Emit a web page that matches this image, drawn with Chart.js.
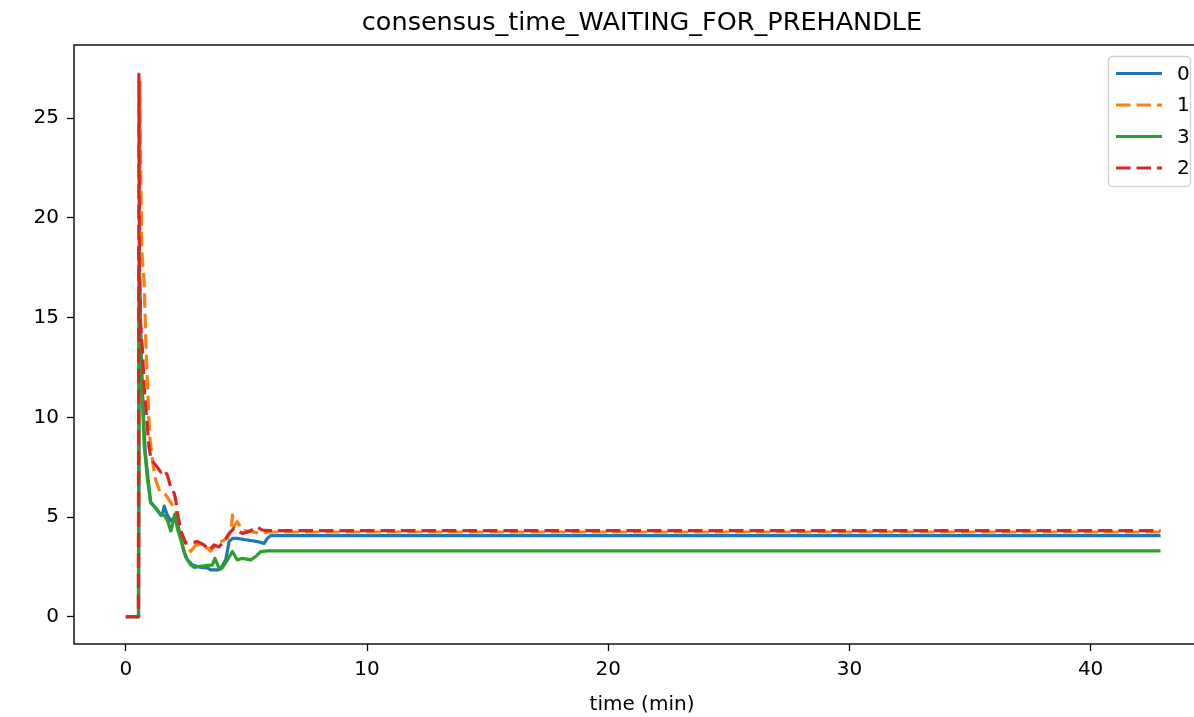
<!DOCTYPE html>
<html><head><meta charset="utf-8">
<script src="https://cdn.jsdelivr.net/npm/chart.js@4"></script>
<style>html,body{margin:0;padding:0;overflow:hidden;background:#fff}canvas{display:block}</style>
</head><body>
<canvas id="c" width="1212" height="717"></canvas>
<script>
// ---- data (time in minutes, values) ----
const seriesNames = ['0', '1', '3', '2'];
const t0 = [0, 0.53, 0.56, 0.64, 0.72, 0.8, 0.92, 1.03, 1.24, 1.45, 1.52, 1.59, 1.66, 1.72, 1.86, 2.0, 2.14, 2.28, 2.41, 2.55, 2.76, 3.1, 3.38, 3.52, 3.8, 3.93, 4.14, 4.28, 4.42, 4.62, 5.04, 5.45, 5.73, 5.87, 6.0, 42.9];
const v0 = [0, 0, 17.5, 13.0, 10.3, 8.3, 6.9, 5.75, 5.45, 5.1, 5.15, 5.55, 5.3, 5.1, 4.8, 4.95, 4.7, 3.95, 3.27, 2.85, 2.6, 2.48, 2.45, 2.35, 2.35, 2.4, 2.85, 3.77, 3.93, 3.93, 3.85, 3.77, 3.68, 3.93, 4.07, 4.07];
const t1 = [0, 0.53, 0.58, 0.62, 0.66, 0.76, 0.84, 0.9, 0.95, 1.0, 1.06, 1.13, 1.24, 1.4, 1.59, 1.72, 1.93, 2.07, 2.2, 2.35, 2.55, 2.69, 2.9, 3.1, 3.38, 3.52, 3.73, 4.0, 4.21, 4.35, 4.42, 4.48, 4.62, 4.83, 5.18, 5.59, 5.87, 42.9];
const v1 = [0, 0, 26.8, 22.0, 18.35, 16.7, 13.35, 11.7, 10.0, 8.9, 8.3, 7.6, 6.85, 6.3, 6.2, 6.0, 5.6, 5.3, 4.75, 4.0, 3.5, 3.27, 3.6, 3.6, 3.45, 3.3, 3.6, 3.8, 3.93, 4.3, 5.1, 4.5, 4.77, 4.35, 4.27, 4.18, 4.25, 4.25];
const t3 = [0, 0.52, 0.55, 0.62, 0.7, 0.76, 0.9, 1.03, 1.24, 1.45, 1.59, 1.72, 1.86, 1.93, 2.03, 2.14, 2.28, 2.48, 2.69, 2.83, 3.24, 3.59, 3.69, 3.86, 4.0, 4.21, 4.42, 4.62, 4.83, 5.18, 5.38, 5.59, 5.87, 42.9];
const v3 = [0, 0, 18.5, 13.4, 10.5, 8.6, 6.85, 5.7, 5.45, 5.1, 5.1, 4.85, 4.3, 4.6, 5.15, 4.4, 3.85, 3.0, 2.6, 2.48, 2.55, 2.6, 2.93, 2.45, 2.45, 2.85, 3.27, 2.85, 2.93, 2.85, 3.02, 3.27, 3.3, 3.3];
const t2 = [0, 0.52, 0.54, 0.56, 0.59, 0.69, 0.76, 0.86, 0.96, 1.03, 1.1, 1.24, 1.45, 1.52, 1.59, 1.72, 1.86, 2.0, 2.07, 2.14, 2.28, 2.48, 2.69, 2.97, 3.24, 3.45, 3.66, 3.86, 4.07, 4.28, 4.48, 4.69, 4.83, 5.1, 5.45, 5.66, 5.93, 42.9];
const v2 = [0, 0, 27.2, 18.0, 15.0, 13.35, 11.5, 10.0, 8.5, 8.0, 7.8, 7.6, 7.25, 7.35, 7.35, 7.1, 6.5, 6.2, 5.85, 5.2, 4.3, 3.7, 3.7, 3.77, 3.6, 3.35, 3.6, 3.5, 3.77, 4.18, 4.43, 4.27, 4.18, 4.27, 4.5, 4.35, 4.32, 4.32];
const xTickStep = 10;
const yTickStep = 5;
const titleText = 'consensus_time_WAITING_FOR_PREHANDLE';
const xLabel = 'time (min)';

const colors = ['#1f77b4', '#ff7f0e', '#2ca02c', '#d62728'];
const dashes = [[], [14.5, 6], [], [14.5, 6]];
const FAM = "'DejaVu Sans', sans-serif";
const pts = (t, v) => t.map((x, i) => ({x: x, y: v[i]}));
const allT = [t0, t1, t3, t2], allV = [v0, v1, v3, v2];

const datasets = seriesNames.map((n, i) => ({
  label: n,
  data: pts(allT[i], allV[i]),
  borderColor: colors[i],
  backgroundColor: colors[i],
  borderWidth: 3.2,
  borderDash: dashes[i],
  borderCapStyle: 'butt',
  borderJoinStyle: 'round',
  pointRadius: 0,
  tension: 0,
  fill: false,
  order: 4 - i
}));

const frame = {
  id: 'frame',
  afterDatasetsDraw(chart) {
    const {ctx, chartArea: a} = chart;
    ctx.save();
    ctx.strokeStyle = '#000';
    ctx.lineWidth = 1.4;
    ctx.strokeRect(a.left, a.top, a.right - a.left, a.bottom - a.top);
    ctx.fillStyle = '#000';
    ctx.font = '25.5px ' + FAM;
    ctx.textAlign = 'center';
    ctx.textBaseline = 'alphabetic';
    ctx.fillText(titleText, (a.left + a.right) / 2, 30);
    ctx.restore();
  }
};

const legendBox = {
  id: 'legendBox',
  afterDraw(chart) {
    const ctx = chart.ctx;
    const x = 1108.5, y = 56.5, w = 82, h = 130, r = 4;
    ctx.save();
    ctx.beginPath();
    ctx.roundRect(x, y, w, h, r);
    ctx.fillStyle = 'rgba(255,255,255,0.8)';
    ctx.fill();
    ctx.strokeStyle = '#d0d0d0';
    ctx.lineWidth = 1.3;
    ctx.stroke();
    chart.data.datasets.forEach((ds, i) => {
      const yy = 73.5 + i * 31.5;
      ctx.beginPath();
      ctx.setLineDash(ds.borderDash);
      ctx.lineCap = 'butt';
      ctx.strokeStyle = ds.borderColor;
      ctx.lineWidth = ds.borderWidth;
      ctx.moveTo(1116, yy);
      ctx.lineTo(1162, yy);
      ctx.stroke();
      ctx.setLineDash([]);
      ctx.fillStyle = '#000';
      ctx.font = '20px ' + FAM;
      ctx.textAlign = 'left';
      ctx.textBaseline = 'middle';
      ctx.fillText(ds.label, 1177, yy + 1);
    });
    ctx.restore();
  }
};

new Chart(document.getElementById('c'), {
  type: 'line',
  data: {datasets},
  options: {
    responsive: false,
    animation: false,
    devicePixelRatio: 1,
    layout: {padding: {top: 45, right: 2, left: 0, bottom: 0}},
    plugins: {legend: {display: false}, tooltip: {enabled: false}, title: {display: false}},
    scales: {
      x: {
        type: 'linear', min: -2.15, max: 44.95,
        afterFit(s) { s.height = 73; },
        ticks: {stepSize: xTickStep, includeBounds: false, font: {family: FAM, size: 20}, color: '#000', padding: 7, maxRotation: 0},
        grid: {display: true, drawOnChartArea: false, drawTicks: true, tickLength: 7, tickColor: '#000', tickWidth: 1.3},
        border: {display: false},
        title: {display: true, text: xLabel, font: {family: FAM, size: 20}, color: '#000', padding: {top: 0, bottom: 0}}
      },
      y: {
        type: 'linear', min: -1.365, max: 28.665,
        afterFit(s) { s.width = 74; },
        ticks: {stepSize: yTickStep, includeBounds: false, font: {family: FAM, size: 20}, color: '#000', padding: 8},
        grid: {display: true, drawOnChartArea: false, drawTicks: true, tickLength: 7, tickColor: '#000', tickWidth: 1.3},
        border: {display: false}
      }
    }
  },
  plugins: [frame, legendBox]
});
</script>
</body></html>
